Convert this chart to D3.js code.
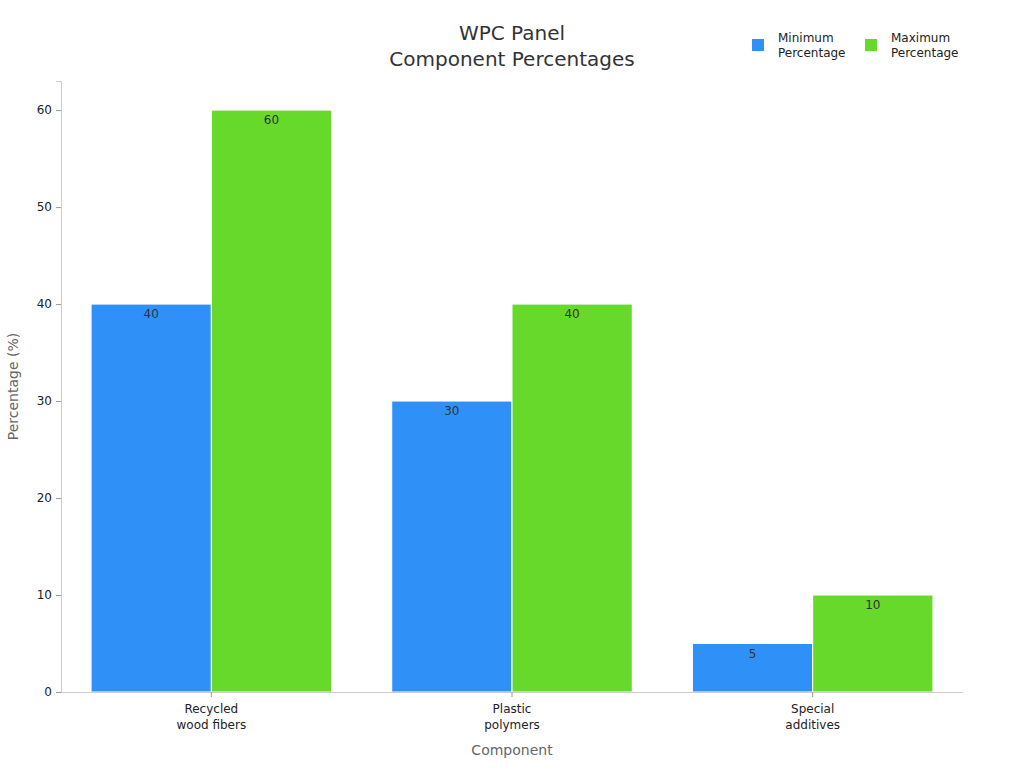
<!DOCTYPE html>
<html>
<head>
<meta charset="utf-8">
<script src="https://cdn.jsdelivr.net/npm/d3@7"></script>
<style>
  body { margin: 0; background: #fff; }
  svg { font-family: "DejaVu Sans", sans-serif; }
</style>
</head>
<body>
<div id="chart"></div>
<script>
// data
const categories = [['Recycled', 'wood fibers'], ['Plastic', 'polymers'], ['Special', 'additives']];
const seriesNames = [['Minimum', 'Percentage'], ['Maximum', 'Percentage']];
const minValues = [40, 30, 5];
const maxValues = [60, 40, 10];
const yTicks = [0, 10, 20, 30, 40, 50, 60];
const colors = ['#2f91f7', '#66d92a'];

const width = 1024, height = 768;
const margin = { top: 81, right: 61, bottom: 76, left: 61 };

const svg = d3.select('#chart').append('svg')
    .attr('width', width)
    .attr('height', height);

// equal slot per category, 10% padding each side
const x = d3.scaleBand()
    .domain(d3.range(categories.length))
    .range([margin.left, width - margin.right])
    .paddingInner(0.2)
    .paddingOuter(0.1);

const y = d3.scaleLinear()
    .domain([0, 63])
    .range([height - margin.bottom, margin.top]);

const x1 = d3.scaleBand()
    .domain([0, 1])
    .range([0, x.bandwidth()]);

// title
svg.append('text')
    .attr('x', 512).attr('y', 40)
    .attr('text-anchor', 'middle')
    .attr('fill', '#333')
    .attr('font-size', '20px')
    .text('WPC Panel');
svg.append('text')
    .attr('x', 512).attr('y', 66)
    .attr('text-anchor', 'middle')
    .attr('fill', '#333')
    .attr('font-size', '20px')
    .text('Component Percentages');

// bars
const groups = svg.selectAll('.grp')
    .data(categories)
    .enter().append('g')
    .attr('class', 'grp')
    .attr('transform', (d, i) => `translate(${x(i)},0)`);

[minValues, maxValues].forEach((vals, s) => {
    groups.append('rect')
        .attr('x', x1(s))
        .attr('y', (d, i) => y(vals[i]))
        .attr('width', x1.bandwidth())
        .attr('height', (d, i) => y(0) - y(vals[i]))
        .attr('fill', colors[s])
        .attr('stroke', '#fff')
        .attr('stroke-width', 1);

    groups.append('text')
        .attr('x', x1(s) + x1.bandwidth() / 2)
        .attr('y', (d, i) => y(vals[i]) + 14)
        .attr('text-anchor', 'middle')
        .attr('fill', '#333')
        .attr('font-size', '12px')
        .text((d, i) => vals[i]);
});

// y axis
const yAxis = svg.append('g')
    .attr('transform', `translate(${margin.left},0)`)
    .call(d3.axisLeft(y).tickValues(yTicks).tickSize(5).tickPadding(4));
yAxis.select('.domain').attr('stroke', '#ccc');
yAxis.selectAll('.tick line').attr('stroke', '#999');
yAxis.selectAll('.tick text').attr('fill', '#222').attr('font-size', '12px')
    .attr('font-family', '"DejaVu Sans", sans-serif');

// x axis
const xAxis = svg.append('g')
    .attr('transform', `translate(0,${height - margin.bottom})`)
    .call(d3.axisBottom(x).tickSize(5).tickFormat(''));
xAxis.select('.domain').attr('stroke', '#ccc').attr('d', `M${margin.left},0.5H${width - margin.right}`);
xAxis.selectAll('.tick line').attr('stroke', '#999');
xAxis.selectAll('.tick').each(function (d) {
    const t = d3.select(this).append('text')
        .attr('text-anchor', 'middle')
        .attr('fill', '#222')
        .attr('font-size', '12px')
        .attr('font-family', '"DejaVu Sans", sans-serif');
    categories[d].forEach((line, k) => {
        t.append('tspan').attr('x', 0).attr('y', 21 + k * 16).text(line);
    });
});

// axis titles
svg.append('text')
    .attr('transform', `translate(18,${(margin.top + height - margin.bottom) / 2}) rotate(-90)`)
    .attr('text-anchor', 'middle')
    .attr('fill', '#666')
    .attr('font-size', '14px')
    .text('Percentage (%)');
svg.append('text')
    .attr('x', (margin.left + width - margin.right) / 2)
    .attr('y', 755)
    .attr('text-anchor', 'middle')
    .attr('fill', '#666')
    .attr('font-size', '14px')
    .text('Component');

// legend
const legendX = [752, 865];
seriesNames.forEach((name, s) => {
    const g = svg.append('g').attr('transform', `translate(${legendX[s]},38)`);
    g.append('rect')
        .attr('x', 0).attr('y', 1)
        .attr('width', 12).attr('height', 12)
        .attr('fill', colors[s]);
    const t = g.append('text')
        .attr('fill', '#222')
        .attr('font-size', '12px');
    name.forEach((line, k) => {
        t.append('tspan').attr('x', 26).attr('y', 4 + k * 15).text(line);
    });
});
</script>
</body>
</html>
